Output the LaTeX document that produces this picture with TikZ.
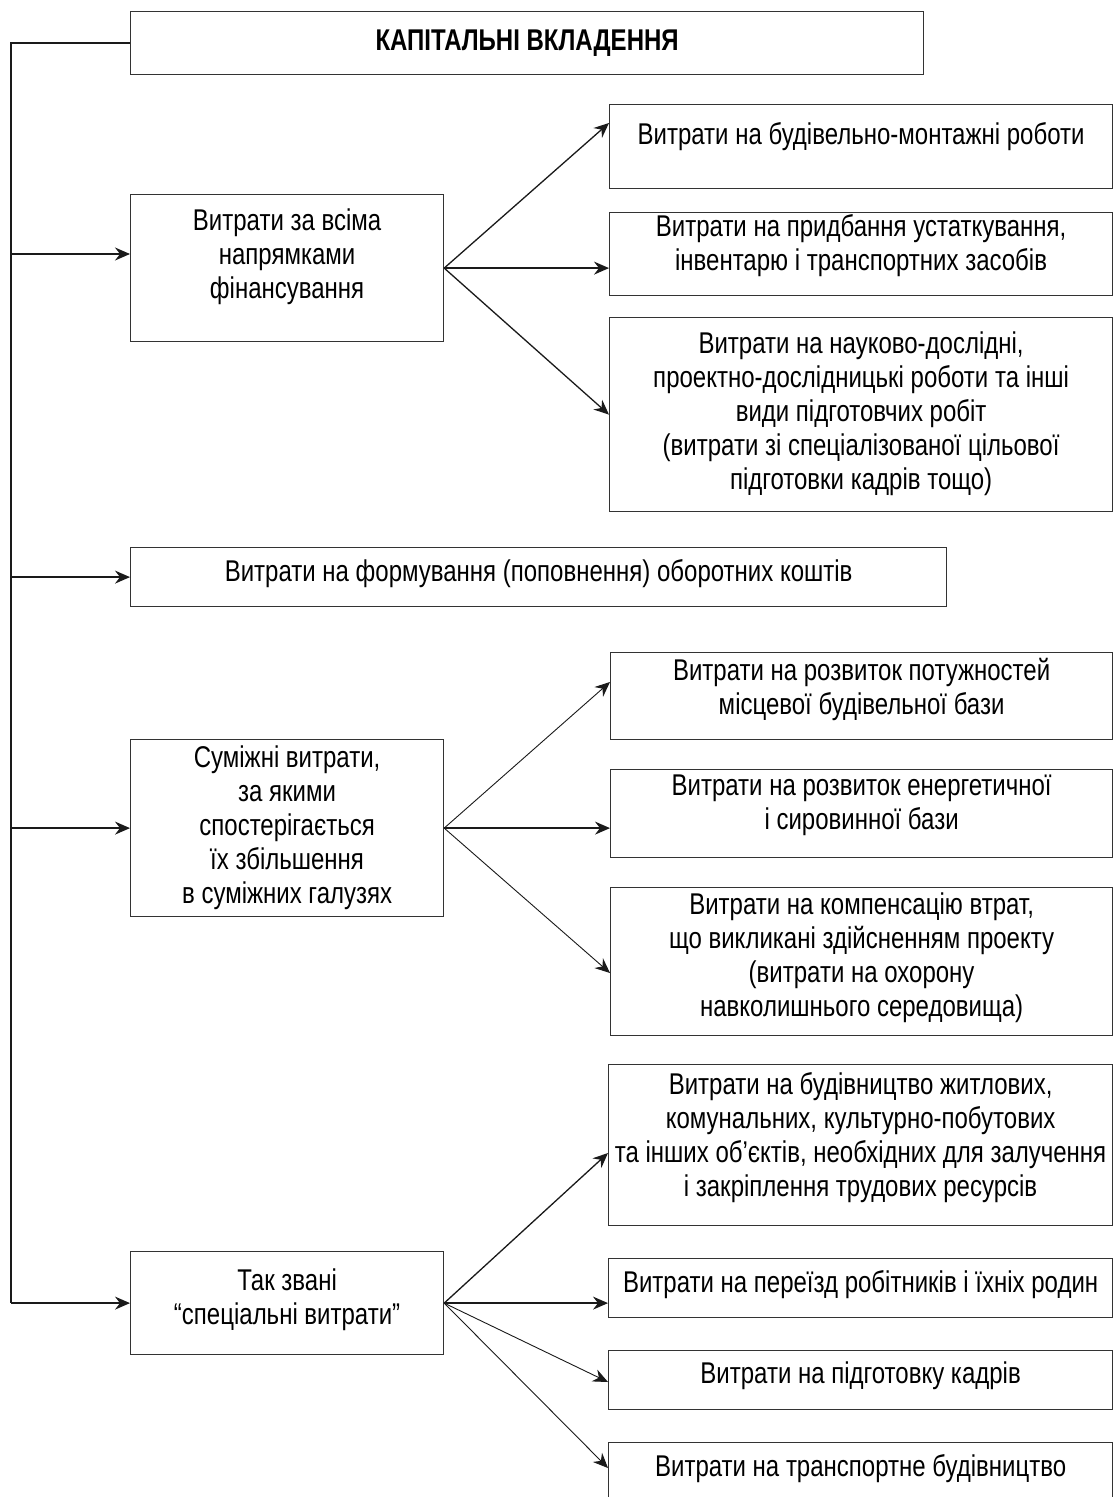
\documentclass[tikz,border=0pt]{standalone}
\usepackage{fontspec}
\setmainfont{Liberation Sans}[FakeStretch=0.80]
\usetikzlibrary{arrows.meta}
\definecolor{edge}{HTML}{333333}
\definecolor{wire}{HTML}{1A1A1A}
\begin{document}
\begin{tikzpicture}[x=1bp,y=-1bp,
  box/.style={draw=edge, line width=1.2bp, rectangle, inner sep=0pt, anchor=north west},
  sz/.style 2 args={minimum width=#1bp, minimum height=#2bp},
  txt/.style={align=center, inner sep=0pt, font=\fontsize{30bp}{34bp}\selectfont},
  conn/.style={draw=wire, line width=1.3bp, -{Stealth[length=15bp,width=13bp,inset=5bp]}},
  thinconn/.style={conn, line width=0.9bp},
  trunk/.style={draw=wire, line width=1.3bp}]
\useasboundingbox (0,0) rectangle (1113,1497);
\fill[white] (0,0) rectangle (1113,1497);
\clip (0,0) rectangle (1113,1497);

% heading
\node[box, sz={793}{63}, align=center,
      font=\fontsize{30bp}{34bp}\selectfont\bfseries] (title) at (130,11) {КАПІТАЛЬНІ ВКЛАДЕННЯ};

% first group
\node[box, sz={313}{147}, label={[txt, yshift=11.5bp]center:{Витрати за всіма\\напрямками\\фінансування}}] (a) at (130,194) {};
\node[box, sz={503}{84}, label={[txt, yshift=10bp]center:{Витрати на будівельно-монтажні роботи}}] (r1) at (609,104) {};
\node[box, sz={503}{83}, label={[txt, yshift=8.5bp]center:{Витрати на придбання устаткування,\\інвентарю і транспортних засобів}}] (r2) at (609,212) {};
\node[box, sz={503}{194}, label={[txt, yshift=1bp]center:{Витрати на науково-дослідні,\\проектно-дослідницькі роботи та інші\\види підготовчих робіт\\(витрати зі спеціалізованої цільової\\підготовки кадрів тощо)}}] (r3) at (609,317) {};

% working capital
\node[box, sz={816}{59}, label={[txt, yshift=3bp]center:{Витрати на формування (поповнення) оборотних коштів}}] (ob) at (130,547) {};

% second group
\node[box, sz={313}{177}, label={[txt]center:{Суміжні витрати,\\за якими\\спостерігається\\їх збільшення\\в суміжних галузях}}] (c) at (130,739) {};
\node[box, sz={502}{87}, label={[txt, yshift=6.5bp]center:{Витрати на розвиток потужностей\\місцевої будівельної бази}}] (r4) at (610,652) {};
\node[box, sz={502}{88}, label={[txt, yshift=8bp]center:{Витрати на розвиток енергетичної\\і сировинної бази}}] (r5) at (610,769) {};
\node[box, sz={502}{148}, label={[txt, yshift=4bp]center:{Витрати на компенсацію втрат,\\що викликані здійсненням проекту\\(витрати на охорону\\навколишнього середовища)}}] (r6) at (610,887) {};

% third group
\node[box, sz={313}{103}, label={[txt, yshift=3.5bp]center:{Так звані\\“спеціальні витрати”}}] (d) at (130,1251) {};
\node[box, sz={504}{161}, label={[txt, yshift=7.5bp]center:{Витрати на будівництво житлових,\\комунальних, культурно-побутових\\та інших об’єктів, необхідних для залучення\\і закріплення трудових ресурсів}}] (r7) at (608,1064) {};
\node[box, sz={504}{59}, label={[txt, yshift=4bp]center:{Витрати на переїзд робітників і їхніх родин}}] (r8) at (608,1258) {};
\node[box, sz={504}{59}, label={[txt, yshift=4bp]center:{Витрати на підготовку кадрів}}] (r9) at (608,1350) {};
\node[box, sz={504}{59}, label={[txt, yshift=4bp]center:{Витрати на транспортне будівництво}}] (r10) at (608,1442) {};

% left trunk with its branches
\coordinate (t0) at (title.west -| 11,0);
\coordinate (tA) at (11,254);
\draw[trunk] (title.west) -- (t0) -- (t0 |- d.west);
\draw[conn] (t0 |- d.west) -- (d.west);
\draw[conn] (tA) -- (tA -| a.west);
\draw[conn] (t0 |- ob.west) -- (ob.west);
\draw[conn] (t0 |- c.west) -- (c.west);

% fans to the detailed items
\draw[conn] (a.east) -- (r1.west |- 0,123);
\draw[conn] (a.east) -- (r2.west |- a.east);
\draw[conn] (a.east) -- (r3.west);

\draw[thinconn] (c.east) -- (r4.west |- 0,682);
\draw[conn] (c.east) -- (r5.west |- c.east);
\draw[thinconn] (c.east) -- (r6.west |- 0,973);

\draw[conn] (d.east) -- (r7.west |- 0,1153);
\draw[conn] (d.east) -- (r8.west |- d.east);
\draw[thinconn] (d.east) -- (r9.west |- 0,1382);
\draw[thinconn] (d.east) -- (r10.west |- 0,1468);
\end{tikzpicture}
\end{document}
